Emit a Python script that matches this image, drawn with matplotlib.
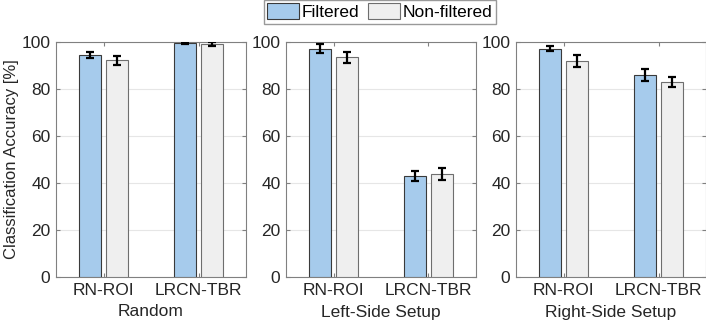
import numpy as np
import matplotlib
matplotlib.use("Agg")
import matplotlib.pyplot as plt

plt.rcParams["font.family"] = ["Liberation Sans", "DejaVu Sans"]

methods = ["RN-ROI", "LRCN-TBR"]
setups = ["Random", "Left-Side Setup", "Right-Side Setup"]
filtered = [[94.6, 99.4], [97.2, 42.9], [97.2, 85.9]]
filtered_err = [[1.2, 0.3], [1.8, 2.0], [1.1, 2.5]]
nonfiltered = [[92.2, 99.1], [93.5, 43.8], [91.9, 83.0]]
nonfiltered_err = [[2.0, 0.7], [2.3, 2.7], [2.7, 2.3]]

blue = "#a6cbec"
grey = "#efefef"

fig = plt.figure(figsize=(7.06, 3.29), dpi=100)
W, H = 706, 329
lefts = [56, 286, 516]
axes = []
for i, x0 in enumerate(lefts):
    ax = fig.add_axes([x0 / W, (H - 277) / H, 190 / W, 235 / H])
    axes.append(ax)
    x = np.arange(1, 3)
    b1 = ax.bar(x - 0.145, filtered[i], 0.23, color=blue, edgecolor="#3a3a3a",
                linewidth=0.8, zorder=3, label="Filtered")
    b2 = ax.bar(x + 0.145, nonfiltered[i], 0.23, color=grey, edgecolor="#6e6e6e",
                linewidth=0.8, zorder=3, label="Non-filtered")
    ax.errorbar(x - 0.145, filtered[i], yerr=filtered_err[i], fmt="none",
                ecolor="black", elinewidth=1.6, capsize=2.8, capthick=1.6, zorder=4)
    ax.errorbar(x + 0.145, nonfiltered[i], yerr=nonfiltered_err[i], fmt="none",
                ecolor="black", elinewidth=1.6, capsize=2.8, capthick=1.6, zorder=4)
    ax.set_xlim(0.5, 2.5)
    ax.set_ylim(0, 100)
    ax.set_yticks(range(0, 101, 20))
    ax.set_xticks(x)
    ax.set_xticklabels(methods)
    ax.set_xlabel(setups[i], fontsize=12.5, color="#262626", labelpad=5)
    ax.grid(axis="y", color="#e6e6e6", linewidth=0.8, zorder=0)
    ax.tick_params(direction="in", top=True, right=True, length=3, pad=4,
                   labelsize=12.5, colors="#262626", color="#808080")
    for s in ax.spines.values():
        s.set_color("#808080")
        s.set_linewidth(0.8)

axes[0].set_ylabel("Classification Accuracy [%]", fontsize=12, color="#262626")
axes[0].yaxis.set_label_coords(-0.195, 0.5)

fig.legend(handles=[b1, b2], loc="upper center", bbox_to_anchor=(380 / W, 1.0),
           ncol=2, fontsize=12.5, frameon=True, fancybox=False, edgecolor="#808080",
           handlelength=1.85, handleheight=1.0, handletextpad=0.15, columnspacing=0.5,
           borderpad=0.2, borderaxespad=0.0)

fig.savefig("out.png", dpi=100)
